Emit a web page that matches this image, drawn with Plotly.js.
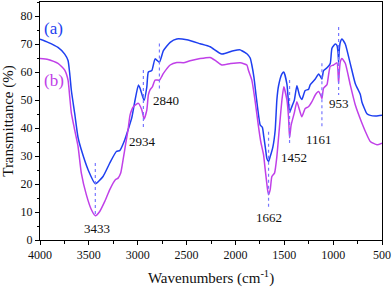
<!DOCTYPE html>
<html>
<head>
<meta charset="utf-8">
<script src="https://cdn.plot.ly/plotly-3.0.1.min.js"></script>
<style>html,body{margin:0;padding:0;background:#fff;}#chart{width:392px;height:287px;}</style>
</head>
<body>
<div id="chart"></div>
<script>
// Series (a)
const wnA = [4000,3918,3816,3747,3713,3696,3679,3645,3611,3577,3508,3434,3355,3286,3218,3184,3132,3099,3061,3027,2993,2976,2935,2907,2891,2856,2822,2778,2737,2668,2600,2497,2361,2259,2139,2020,1951,1934,1883,1849,1832,1810,1790,1774,1746,1725,1710,1690,1678,1661,1644,1617,1593,1576,1559,1524,1505,1473,1456,1446,1430,1398,1371,1344,1320,1286,1252,1234,1183,1149,1132,1115,1098,1063,1030,1012,978,961,950,944,937,927,910,876,824,773,722,705,654,620,560,500];
const tA  = [71.7,70.6,68.8,66.4,64.1,59.5,53.4,45.2,36.7,32.2,25.1,20.1,22.7,27.5,31.6,31.9,35.8,39.3,43.6,50.0,55.4,54.2,49.8,54.6,60.0,60.5,64.7,63.5,67.6,70.6,71.8,71.5,70.1,69.0,66.4,67.6,67.9,67.6,66.5,65.0,62.5,58.0,52.0,47.5,41.0,40.3,37.0,32.0,29.1,28.0,29.8,33.2,39.3,50.0,55.0,59.3,60.0,55.7,48.6,45.5,47.0,49.8,55.1,51.6,50.2,53.4,53.8,55.5,57.5,59.3,58.5,57.5,60.5,61.5,63.0,68.5,70.0,69.5,67.0,63.5,68.0,70.6,71.8,70.0,62.9,55.8,52.0,49.2,45.1,44.5,44.3,44.6];
// Series (b)
const wnB = [4000,3918,3816,3747,3713,3696,3679,3645,3611,3577,3526,3475,3434,3389,3337,3286,3229,3201,3174,3150,3122,3099,3078,3044,2993,2958,2935,2907,2891,2874,2850,2822,2778,2737,2668,2600,2532,2464,2361,2259,2200,2139,2050,1951,1883,1866,1832,1798,1764,1740,1712,1695,1671,1661,1644,1627,1600,1576,1552,1524,1505,1473,1456,1446,1430,1398,1371,1344,1320,1286,1252,1217,1183,1149,1125,1115,1098,1063,1047,1030,996,961,944,937,927,910,876,824,773,705,654,620,551,500];
const tB  = [64.8,64.5,63.1,60.7,57.1,51.2,45.3,39.3,33.5,23.9,16.2,10.9,8.7,10.2,13.8,18.0,21.5,22.1,23.9,28.6,34.6,39.3,44.7,47.6,48.8,46.4,43.2,46.4,51.8,53.6,54.7,57.1,57.1,59.5,62.5,63.4,63.3,64.0,64.8,65.2,64.0,62.5,63.0,63.3,62.5,60.5,57.1,49.5,40.5,35.0,30.4,25.1,18.0,16.2,18.0,22.7,23.9,29.8,39.3,50.0,54.7,50.0,43.5,36.5,41.0,45.3,49.4,46.4,44.0,47.0,47.6,49.4,51.8,53.0,51.5,50.5,54.2,55.5,58.9,62.0,62.5,63.3,55.9,60.0,63.6,64.8,63.1,55.3,48.2,41.7,37.5,35.2,34.0,34.6];

// Peak annotations
const peakLabels    = ['3433','2934','2840','1662','1452','1161','953'];
const peakLineWn    = [3434,2942,2778,1661,1446,1115,944];
const peakLineTop   = [27.5,60.7,70.2,38.7,57.1,63.1,76.1];
const peakLineBottom= [8.5,39.3,53.6,11.6,33.6,39.9,51.8];
const labelWn       = [3416,2950,2711,1661,1405,1149,944];
const labelT        = [4.1,35.2,49.8,8.2,29.5,36.0,48.8];

const seriesNames = ['(a)','(b)'];
const seriesColors = ['#1e3ff0','#c040e8'];
const seriesLabelWn = [3857,3857];
const seriesLabelT = [75.6,57.1];

const dotX = [], dotY = [];
peakLineWn.forEach((w,i)=>{ dotX.push(w,w,null); dotY.push(peakLineTop[i],peakLineBottom[i],null); });

const traces = [
  {x: wnA, y: tA, mode:'lines', line:{color:seriesColors[0], width:1.5, shape:'spline', smoothing:0.5}, name:seriesNames[0]},
  {x: wnB, y: tB, mode:'lines', line:{color:seriesColors[1], width:1.5, shape:'spline', smoothing:0.5}, name:seriesNames[1]},
  {x: dotX, y: dotY, mode:'lines', line:{color:'#7878ff', width:1.2, dash:'dot'}, connectgaps:false}
];

const serif = 'Liberation Serif, Times New Roman, serif';
const annotations = peakLabels.map((t,i)=>({x:labelWn[i], y:labelT[i], xref:'x', yref:'y', text:t, showarrow:false, font:{family:serif, size:13, color:'#111'}}));
seriesNames.forEach((n,i)=>annotations.push({x:seriesLabelWn[i], y:seriesLabelT[i], xref:'x', yref:'y', text:n, showarrow:false, font:{family:serif, size:17, color:seriesColors[i]}}));

const layout = {
  width:392, height:287,
  margin:{l:40, r:10, t:2, b:47},
  showlegend:false,
  paper_bgcolor:'#fff', plot_bgcolor:'#fff',
  font:{family:serif, size:12, color:'#111'},
  xaxis:{
    range:[4000,500], tickvals:[4000,3500,3000,2500,2000,1500,1000,500],
    ticks:'outside', ticklen:4, tickwidth:1, tickcolor:'#000',
    minor:{dtick:250, tick0:0, ticks:'outside', ticklen:2.5, tickcolor:'#000'},
    showline:true, linecolor:'#000', linewidth:1, mirror:true,
    showgrid:false, zeroline:false,
    tickfont:{family:serif, size:12, color:'#111'},
    title:{text:'Wavenumbers (cm<sup>-1</sup>)', font:{family:serif, size:15, color:'#111'}, standoff:12}
  },
  yaxis:{
    range:[0,85], tickvals:[0,10,20,30,40,50,60,70,80],
    ticks:'outside', ticklen:4, tickwidth:1, tickcolor:'#000',
    minor:{dtick:5, tick0:0, ticks:'outside', ticklen:2.5, tickcolor:'#000'},
    showline:true, linecolor:'#000', linewidth:1, mirror:true,
    showgrid:false, zeroline:false,
    tickfont:{family:serif, size:12, color:'#111'},
    title:{text:'Transmittance (%)', font:{family:serif, size:15, color:'#111'}, standoff:4}
  },
  annotations: annotations
};
Plotly.newPlot('chart', traces, layout, {staticPlot:true, displayModeBar:false});
</script>
</body>
</html>
